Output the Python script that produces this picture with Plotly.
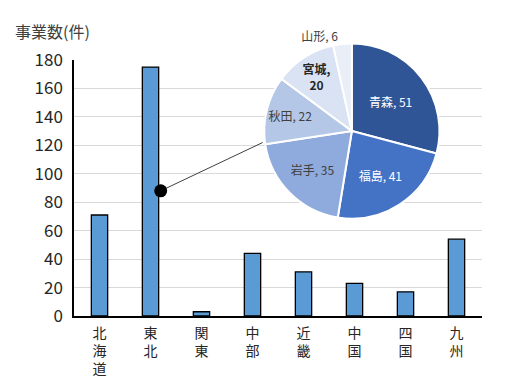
import plotly.graph_objects as go

FONT = "Noto Sans CJK JP"

# Bar data: number of businesses by region
regions = ["北海道", "東北", "関東", "中部", "近畿", "中国", "四国", "九州"]
counts = [71, 175, 3, 44, 31, 23, 17, 54]

# Pie data: breakdown of 東北
prefs = ["青森", "福島", "岩手", "秋田", "宮城", "山形"]
pref_counts = [51, 41, 35, 22, 20, 6]
pref_colors = ["#2F5597", "#4472C4", "#8FAADC", "#B4C7E7", "#DAE3F3", "#E9EEF7"]
pref_text_colors = ["white", "white", "#404040", "#404040", "#262626", "#404040"]

y_ticks = list(range(0, 181, 20))
axis_title = "事業数(件)"

# callout point on the 東北 bar (right edge) and the end of the leader on the pie edge
callout_region = "東北"
callout_offset = 0.2   # in category units, toward the bar's right edge
callout_value = 88
leader_end = (3.2, 122)

pie_text = []
for p, v in zip(prefs, pref_counts):
    if p == "宮城":
        pie_text.append(f"<b>{p},<br>{v}</b>")
    else:
        pie_text.append(f"{p}, {v}")
text_pos = ["inside"] * 5 + ["outside"]

# vertical tick labels: one character per line
tick_text = ["<br>".join(list(r)) for r in regions]

fig = go.Figure()
fig.add_trace(go.Bar(
    x=regions, y=counts,
    marker=dict(color="#5B9BD5", line=dict(color="black", width=1.3)),
    width=0.32, showlegend=False, hoverinfo="x+y",
))

cx = regions.index(callout_region) + callout_offset
# leader line
fig.add_shape(type="line", xref="x", yref="y",
              x0=cx, y0=callout_value, x1=leader_end[0], y1=leader_end[1],
              line=dict(color="#404040", width=1))
# callout dot
fig.add_shape(type="circle", xref="x", yref="y",
              xsizemode="pixel", ysizemode="pixel",
              xanchor=cx, yanchor=callout_value,
              x0=-6.5, x1=6.5, y0=-6.5, y1=6.5,
              fillcolor="black", line=dict(color="black", width=0))

fig.add_trace(go.Pie(
    labels=prefs, values=pref_counts, sort=False, direction="clockwise",
    rotation=0, text=pie_text, textinfo="text", textposition=text_pos,
    insidetextorientation="horizontal",
    marker=dict(colors=pref_colors, line=dict(color="white", width=2)),
    textfont=dict(family=FONT, size=12, color=pref_text_colors),
    outsidetextfont=dict(family=FONT, size=12, color="#404040"),
    domain=dict(x=[0.681 - 0.216, 0.681 + 0.216], y=[0.625 - 0.296, 0.625 + 0.296]),
    showlegend=False, hoverinfo="label+value",
))

# plot area: 408 x 296 px (page body adds an 8px offset)
plot_w, plot_h = 408, 296
fig.update_layout(
    width=506, height=384,
    margin=dict(l=66, r=32, t=12, b=76, autoexpand=False),
    showlegend=False,
    paper_bgcolor="white", plot_bgcolor="white",
    font=dict(family=FONT, color="#404040"),
    annotations=[dict(
        x=-61 / plot_w, xref="paper", y=1 - 11 / plot_h, yref="paper",
        xanchor="left", yanchor="middle", text=axis_title, showarrow=False,
        font=dict(family=FONT, size=16, color="#404040"),
    )],
    xaxis=dict(tickvals=regions, ticktext=tick_text, showline=True,
               linecolor="black", linewidth=1.5, showgrid=False, ticks="",
               range=[-0.5, 7.5], ticklabelstandoff=3, automargin=False,
               tickfont=dict(family=FONT, size=14, color="#262626")),
    yaxis=dict(range=[0, 180], tickvals=y_ticks, showline=True,
               linecolor="black", linewidth=1.5, showgrid=True,
               gridcolor="#D9D9D9", gridwidth=1, zeroline=False,
               domain=[0, 256 / plot_h], ticks="", ticklabelstandoff=6,
               automargin=False,
               tickfont=dict(family=FONT, size=17, color="#262626")),
)

fig.write_html("out.html")
